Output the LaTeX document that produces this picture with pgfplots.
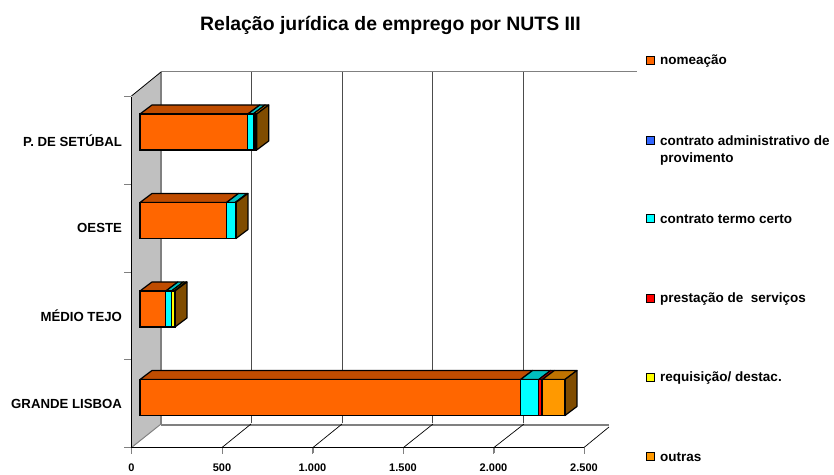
\documentclass[border=0pt]{standalone}
\usepackage{pgfplots}
\pgfplotsset{compat=1.18}
\usepackage{fontspec}
\setmainfont{Liberation Sans}
\definecolor{cnom}{HTML}{FF6600}
\definecolor{cadm}{HTML}{3366FF}
\definecolor{ctc}{HTML}{00FFFF}
\definecolor{cps}{HTML}{FF0000}
\definecolor{creq}{HTML}{FFFF00}
\definecolor{cout}{HTML}{FF9900}
\definecolor{wall}{HTML}{C0C0C0}
\definecolor{gline}{HTML}{808080}
\pgfplotsset{
 barplane/.style={scale only axis,width=452.5pt,height=354pt,at={(140pt,32.25pt)},anchor=south west,
  xmin=0,xmax=2500,ymin=-0.5,ymax=3.5,clip=false,axis line style={draw=none},
  xtick=\empty,ytick=\empty,tick style={draw=none}},
}
% top face of one stacked segment: y, start, end, colour
\newcommand{\topface}[4]{%
 \pgfmathsetmacro{\ya}{#1+0.2034}\pgfmathsetmacro{\yb}{#1+0.3051}%
 \pgfmathsetmacro{\xa}{#2+66.2}\pgfmathsetmacro{\xb}{#3+66.2}%
 \addplot[fill=#4!75!black,draw=black,line width=1.2pt,line join=round] coordinates {(#2,\ya) (#3,\ya) (\xb,\yb) (\xa,\yb) (#2,\ya)};}
\newcommand{\sideface}[3]{%
 \pgfmathsetmacro{\ya}{#1+0.2034}\pgfmathsetmacro{\yb}{#1+0.3051}\pgfmathsetmacro{\yc}{#1-0.2034}\pgfmathsetmacro{\yd}{#1-0.1017}%
 \pgfmathsetmacro{\xb}{#2+66.2}%
 \addplot[fill=#3!50!black,draw=black,line width=1.2pt,line join=round] coordinates {(#2,\ya) (\xb,\yb) (\xb,\yd) (#2,\yc) (#2,\ya)};}
\begin{document}
\begin{tikzpicture}[x=1pt,y=1pt]
\path[use as bounding box] (0,0) rectangle (834,474);
\begin{scope}[y=-1pt,shift={(0pt,474pt)}]
 \fill[wall] (131.5,447.5) -- (161,423.5) -- (161,72) -- (131.5,96) -- cycle;
 \draw[gline,line width=1pt] (161,72) -- (637,72);
 \draw[gline,line width=1.6pt] (161,72) -- (161,424);
 \draw[gline,line width=1.6pt] (161,425) -- (609,425);
 \draw[black,line width=0.8pt] (131.5,96) -- (161,72);
 \draw[gline,line width=1pt] (131.5,447.5) -- (161,424);
 \foreach \a/\b in {222/251,313/342,403.5/433,494/524}
   \draw[black,line width=0.7pt] (\a,447.5) -- (\b,424);
 \draw[black,line width=0.7pt] (584,447.5) -- (609,427);
 \draw[black!70,line width=1pt] (125,447.5) -- (584.5,447.5);
 \draw[black,line width=1pt] (131.5,447.5) -- (131.5,454);
 \foreach \a in {222,313,403.5,494,584}
   \draw[gline,line width=1pt] (\a,447.5) -- (\a,453);
\end{scope}
% back wall grid
\begin{axis}[scale only axis,width=453pt,height=351pt,at={(161pt,51pt)},anchor=south west,
  xmin=0,xmax=2500,ymin=0,ymax=1,axis line style={draw=none},tick style={draw=none},
  xtick={500,1000,1500,2000},xticklabels={},ytick=\empty,
  xmajorgrids,grid style={color=black!70,line width=0.9pt}]
\addplot[draw=none] coordinates {(0,0) (2500,1)};
\end{axis}
% front plane with the axes
\begin{axis}[scale only axis,width=452.5pt,height=351pt,at={(131.5pt,26.5pt)},anchor=south west,
  xmin=0,xmax=2500,ymin=-0.5,ymax=3.5,
  axis x line*=bottom,axis y line*=left,
  y axis line style={-,black,line width=1pt},
  xtick={0,500,1000,1500,2000,2500},
  /pgf/number format/assume math mode=true,
  /pgf/number format/1000 sep={.},
  /pgf/number format/min exponent for 1000 sep=0,
  xticklabel style={font=\bfseries\fontsize{11}{12}\selectfont,yshift=-7pt},
  tick align=outside,major tick length=6pt,
  ytick={0,1,2,3},yticklabels={GRANDE LISBOA,MÉDIO TEJO,OESTE,P. DE SETÚBAL},
  y tick style={draw=none},
  minor ytick={-0.5,0.5,1.5,2.5,3.5},minor y tick style={gline,line width=1pt,draw=gline},
  minor tick length=7pt,
  yticklabel style={font=\bfseries\fontsize{13.2}{14}\selectfont,xshift=0pt},
  ]
\addplot[draw=none] coordinates {(0,0) (2500,3)};
\end{axis}
% depth faces of the bars
\begin{axis}[barplane]
\topface{0}{0}{2103}{cnom}\topface{0}{2103}{2203}{ctc}\topface{0}{2203}{2223}{cps}\topface{0}{2223}{2348}{cout}\sideface{0}{2348}{cout}
\topface{1}{0}{143}{cnom}\topface{1}{143}{174}{ctc}\topface{1}{174}{190}{creq}\topface{1}{190}{193}{cout}\sideface{1}{193}{cout}
\topface{2}{0}{478}{cnom}\topface{2}{478}{526}{ctc}\topface{2}{526}{530}{cout}\sideface{2}{530}{cout}
\topface{3}{0}{596}{cnom}\topface{3}{596}{625}{ctc}\topface{3}{625}{645}{cout}\sideface{3}{645}{cout}
\end{axis}
% front faces of the bars
\begin{axis}[barplane,xbar stacked,bar width=36pt,
  every axis plot/.append style={draw=black,line width=1.2pt}]
\addplot[fill=cnom] coordinates {(2103,0) (143,1) (478,2) (596,3)};
\addplot[fill=cadm] coordinates {(0,0) (0,1) (0,2) (0,3)};
\addplot[fill=ctc] coordinates {(100,0) (31,1) (48,2) (29,3)};
\addplot[fill=cps] coordinates {(18,0) (2,1) (1,2) (5,3)};
\addplot[fill=creq] coordinates {(2,0) (14,1) (1,2) (5,3)};
\addplot[fill=cout] coordinates {(125,0) (3,1) (2,2) (10,3)};
\end{axis}
\begin{scope}[y=-1pt,shift={(0pt,474pt)}]
 \node[font=\bfseries\fontsize{19.4}{21}\selectfont,anchor=center] at (390.5,25.5) {Relação jurídica de emprego por NUTS III};
 \foreach \yy/\cc/\tt in {60/cnom/nomeação,140/cadm/contrato administrativo de,218/ctc/contrato termo certo,298/cps/prestação de\ \ serviços,377/creq/{requisição/ destac.},456/cout/outras}{
   \draw[black,line width=0.9pt,fill=\cc] (646.5,\yy-4) rectangle (654.5,\yy+4);
   \node[font=\bfseries\fontsize{13.5}{15}\selectfont,anchor=west,inner sep=0pt] at (660,\yy+0.8) {\tt};
 }
 \node[font=\bfseries\fontsize{13.5}{15}\selectfont,anchor=west,inner sep=0pt] at (660,159) {provimento};
\end{scope}
\end{tikzpicture}
\end{document}
